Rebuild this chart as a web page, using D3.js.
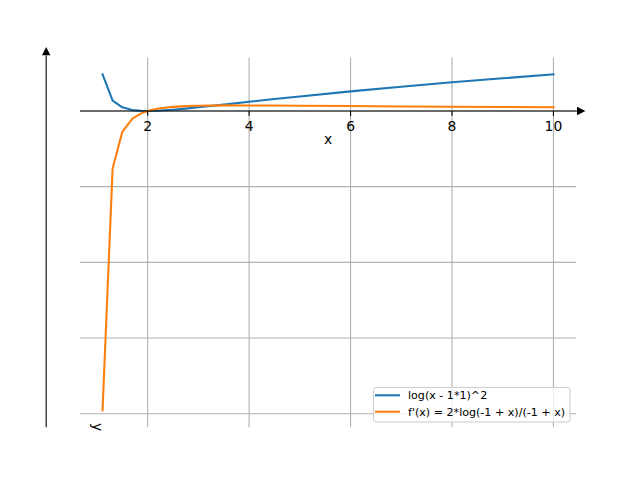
<!DOCTYPE html>
<html>
<head>
<meta charset="utf-8">
<script src="https://cdn.jsdelivr.net/npm/d3@7"></script>
<style>
  body { margin: 0; background: #fff; }
  text { font-family: "DejaVu Sans", sans-serif; }
</style>
</head>
<body>
<div id="chart"></div>
<script>
const xs = [1.111, 1.31, 1.50, 1.70, 1.87, 2.05, 2.25, 2.5, 2.75, 3, 3.5, 4, 4.5, 5, 6, 7, 8, 9, 10]
const blue = [4.83, 1.372, 0.481, 0.127, 0.019, 0.002, 0.050, 0.164, 0.313, 0.481, 0.840, 1.207, 1.569, 1.922, 2.590, 3.210, 3.787, 4.324, 4.828]
const orange = [-39.56, -7.556, -2.773, -1.019, -0.320, 0.093, 0.357, 0.541, 0.640, 0.693, 0.733, 0.732, 0.716, 0.693, 0.644, 0.597, 0.556, 0.520, 0.488]
const xTicks = [2, 4, 6, 8, 10]
const yTicks = [-40, -30, -20, -10, 0]
const labels = ["log(x - 1*1)^2", "f'(x) = 2*log(-1 + x)/(-1 + x)"]
const colors = ["#1f77b4", "#ff7f0e"]

const width = 640, height = 480
const margin = { left: 80, right: 64, top: 57.6, bottom: 52.8 }
const x0 = margin.left, x1 = width - margin.right
const y0 = height - margin.bottom, y1 = margin.top

// matplotlib style 5% padding around the data
function padded(ext) {
  const r = ext[1] - ext[0]
  return [ext[0] - 0.05 * r, ext[1] + 0.05 * r]
}

const x = d3.scaleLinear().domain(padded(d3.extent(xs))).range([x0, x1])
const y = d3.scaleLinear()
  .domain(padded(d3.extent(blue.concat(orange))))
  .range([y0, y1])

const svg = d3.select("#chart").append("svg")
  .attr("width", width)
  .attr("height", height)

svg.append("rect").attr("width", width).attr("height", height).attr("fill", "#fff")

svg.append("clipPath").attr("id", "clip")
  .append("rect")
  .attr("x", x0).attr("y", y1)
  .attr("width", x1 - x0).attr("height", y0 - y1)

// grid
const grid = svg.append("g").attr("id", "grid")
grid.selectAll(".vgrid")
  .data(xTicks)
  .enter().append("line")
    .attr("x1", d => x(d)).attr("x2", d => x(d))
    .attr("y1", y1).attr("y2", y0)
    .attr("stroke", "#b0b0b0")
    .attr("stroke-width", 1.1)
grid.selectAll(".hgrid")
  .data(yTicks)
  .enter().append("line")
    .attr("x1", x0).attr("x2", x1)
    .attr("y1", d => y(d)).attr("y2", d => y(d))
    .attr("stroke", "#b0b0b0")
    .attr("stroke-width", 1.1)

// series
const line = d3.line().x(d => x(d[0])).y(d => y(d[1]))
const series = [blue, orange]
svg.append("g").attr("clip-path", "url(#clip)")
  .selectAll(".series")
  .data(series)
  .enter().append("path")
    .attr("fill", "none")
    .attr("stroke", (d, i) => colors[i])
    .attr("stroke-width", 2.08)
    .attr("stroke-linejoin", "round")
    .attr("stroke-linecap", "square")
    .attr("d", d => line(xs.map((v, i) => [v, d[i]])))

// axes: spines through the origin
const zx = x(0), zy = y(0)
svg.append("line")
  .attr("x1", x0).attr("x2", x1 + 2)
  .attr("y1", zy).attr("y2", zy)
  .attr("stroke", "#000").attr("stroke-width", 1.1)
svg.append("path")
  .attr("d", `M${x1 + 1},${zy - 4.2}L${x1 + 9.4},${zy}L${x1 + 1},${zy + 4.2}Z`)
  .attr("fill", "#000")

svg.append("line")
  .attr("x1", zx).attr("x2", zx)
  .attr("y1", y0).attr("y2", y1 - 2)
  .attr("stroke", "#000").attr("stroke-width", 1.1)
svg.append("path")
  .attr("d", `M${zx - 4.2},${y1 - 2.4}L${zx},${y1 - 10.6}L${zx + 4.2},${y1 - 2.4}Z`)
  .attr("fill", "#000")

// x ticks
const xt = svg.append("g").attr("id", "x-ticks")
xt.selectAll("line")
  .data(xTicks)
  .enter().append("line")
    .attr("x1", d => x(d)).attr("x2", d => x(d))
    .attr("y1", zy).attr("y2", zy + 4.9)
    .attr("stroke", "#000").attr("stroke-width", 1.1)
xt.selectAll("text")
  .data(xTicks)
  .enter().append("text")
    .attr("x", d => x(d))
    .attr("y", zy + 20)
    .attr("text-anchor", "middle")
    .attr("font-size", "13.9px")
    .text(d => d)

svg.append("text")
  .attr("x", (x0 + x1) / 2)
  .attr("y", zy + 33.5)
  .attr("text-anchor", "middle")
  .attr("font-size", "13.9px")
  .text("x")

// y label sits at the bottom, turned clockwise
svg.append("text")
  .attr("transform", `translate(${x0 + 17},${y0}) rotate(90)`)
  .attr("text-anchor", "middle")
  .attr("dy", "0.32em")
  .attr("font-size", "13.9px")
  .text("y")

// legend
const lg = svg.append("g").attr("id", "legend")
lg.append("rect")
  .attr("x", 373.5).attr("y", 387.5)
  .attr("width", 196.5).attr("height", 34.5)
  .attr("rx", 2.5)
  .attr("fill", "#fff").attr("fill-opacity", 0.8)
  .attr("stroke", "#cccccc").attr("stroke-width", 1)
const rows = lg.selectAll(".row")
  .data(labels)
  .enter().append("g")
    .attr("transform", (d, i) => `translate(375,${395.3 + i * 16.4})`)
rows.append("line")
  .attr("x1", 0).attr("x2", 25)
  .attr("stroke", (d, i) => colors[i])
  .attr("stroke-width", 2.08)
rows.append("text")
  .attr("x", 33)
  .attr("dy", "0.35em")
  .attr("font-size", "11.1px")
  .text(d => d)
</script>
</body>
</html>
